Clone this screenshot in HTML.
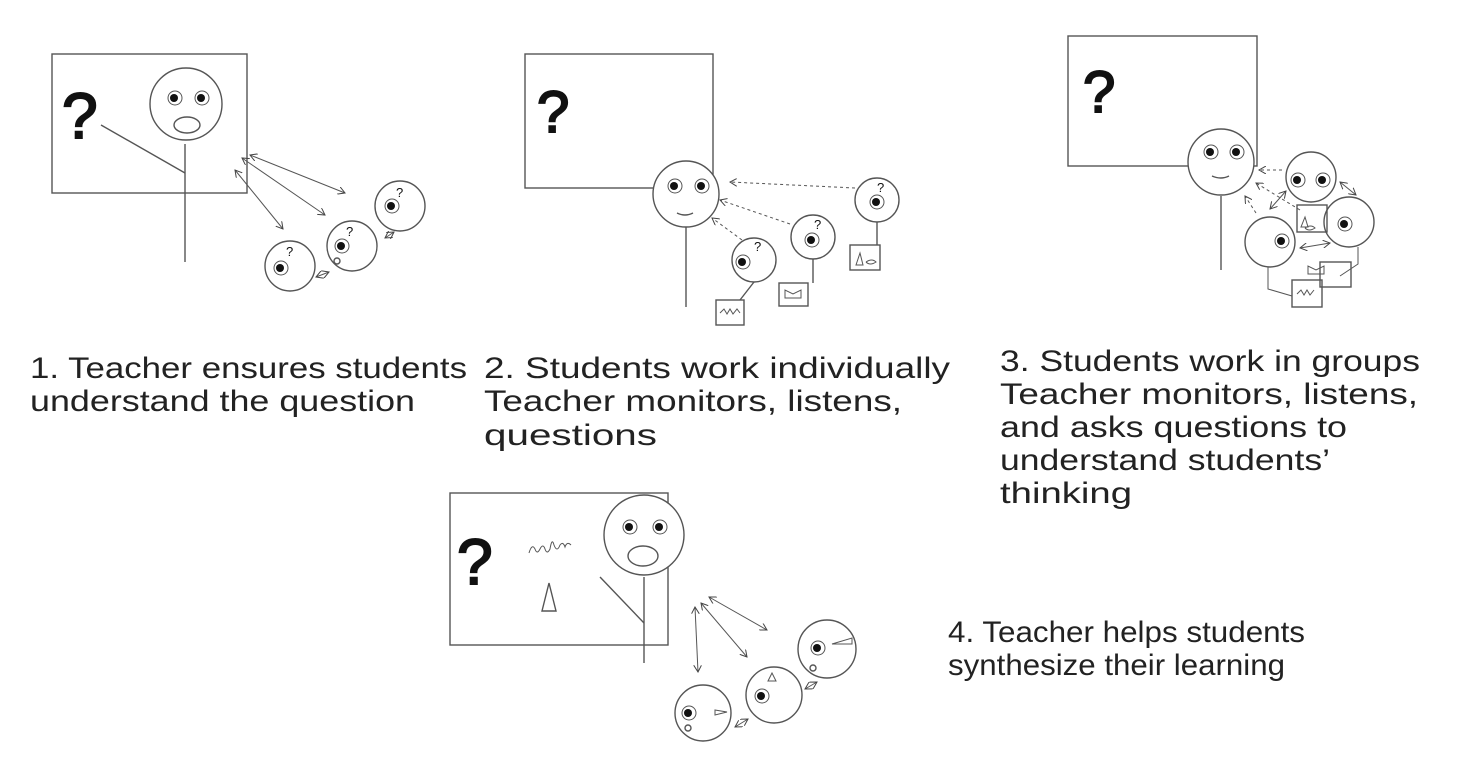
<!DOCTYPE html>
<html><head><style>
html,body{margin:0;padding:0;background:#fff;width:1474px;height:779px;overflow:hidden}
svg{position:absolute;left:0;top:0}
.t{font-family:"Liberation Sans",sans-serif;font-size:30px;fill:#222}
.q{font-family:"Liberation Sans",sans-serif;fill:#111}
.qb{stroke:#111;stroke-width:2}
</style></head><body>
<svg width="1474" height="779" viewBox="0 0 1474 779">
<defs>
<marker id="a" markerWidth="8" markerHeight="8" refX="7" refY="4" orient="auto-start-reverse" markerUnits="userSpaceOnUse"><path d="M0,0 L7,4 L0,8" fill="none" stroke="#444" stroke-width="1"/></marker>
<g id="eye"><circle r="7" fill="#fff" stroke="#555" stroke-width="1"/><circle cx="-1" cy="0" r="4" fill="#111"/></g>
</defs>
<g fill="none" stroke="#555" stroke-width="1.4">
<!-- Panel 1 -->
<rect x="52" y="54" width="195" height="139"/>
<circle cx="186" cy="104" r="36" fill="#fff"/>
<ellipse cx="187" cy="125" rx="13" ry="8"/>
<line x1="185" y1="144" x2="185" y2="262"/>
<line x1="101" y1="125" x2="185" y2="173"/>
<g stroke-width="1" marker-start="url(#a)" marker-end="url(#a)">
<line x1="250" y1="155" x2="345" y2="193"/>
<line x1="242" y1="158" x2="325" y2="215"/>
<line x1="235" y1="170" x2="283" y2="229"/>
<line x1="385" y1="238" x2="394" y2="232"/>
<line x1="316" y1="277" x2="329" y2="272"/>
</g>
<circle cx="400" cy="206" r="25"/><circle cx="352" cy="246" r="25"/><circle cx="290" cy="266" r="25"/>
<ellipse cx="337" cy="261" rx="3" ry="3"/>
<!-- Panel 2 -->
<rect x="525" y="54" width="188" height="134"/>
<circle cx="686" cy="194" r="33" fill="#fff"/>
<line x1="686" y1="227" x2="686" y2="307"/>
<path d="M677,213 q8,4 16,0"/>
<g stroke-dasharray="3,3" stroke-width="1" marker-end="url(#a)">
<line x1="855" y1="188" x2="730" y2="182"/>
<line x1="790" y1="224" x2="720" y2="200"/>
<line x1="742" y1="240" x2="712" y2="218"/>
</g>
<circle cx="877" cy="200" r="22"/><circle cx="813" cy="237" r="22"/><circle cx="754" cy="260" r="22"/>
<line x1="877" y1="222" x2="877" y2="245"/><line x1="813" y1="259" x2="813" y2="283"/><line x1="754" y1="282" x2="740" y2="300"/>
<rect x="850" y="245" width="30" height="25"/><rect x="779" y="283" width="29" height="23"/><rect x="716" y="300" width="28" height="25"/>
<path d="M856,265 l4,-12 l3,12z M866,262 q6,-4 10,0 q-6,4 -10,0" stroke-width="1"/>
<path d="M785,290 v8 h16 v-8 l-8,4z" stroke-width="1"/>
<path d="M720,313 l4,-4 l3,5 l3,-5 l3,5 l4,-5 l3,4" stroke-width="1"/>
<!-- Panel 3 -->
<rect x="1068" y="36" width="189" height="130"/>
<circle cx="1221" cy="162" r="33" fill="#fff"/>
<line x1="1221" y1="196" x2="1221" y2="270"/>
<path d="M1212,176 q9,4 17,0"/>
<circle cx="1311" cy="177" r="25"/><circle cx="1349" cy="222" r="25"/><circle cx="1270" cy="242" r="25"/>
<rect x="1297" y="205" width="30" height="27"/><rect x="1320" y="262" width="31" height="25"/><rect x="1292" y="280" width="30" height="27"/>
<path d="M1308,266 v8 h16 v-8 l-8,4z M1297,294 l4,-4 l3,5 l3,-5 l3,5 l4,-5 M1305,217 l-4,10 h7z M1305,228 q6,-4 10,0 q-6,4 -10,0" stroke-width="1"/>
<path d="M1268,267 v22 l24,7 M1358,247 v17 l-18,12" stroke-width="1"/>
<g stroke-dasharray="3,3" stroke-width="1" marker-end="url(#a)">
<line x1="1282" y1="170" x2="1259" y2="170"/>
<line x1="1300" y1="210" x2="1256" y2="183"/>
<line x1="1256" y1="213" x2="1245" y2="196"/>
</g>
<g stroke-width="1" marker-start="url(#a)" marker-end="url(#a)">
<line x1="1286" y1="191" x2="1270" y2="209"/>
<line x1="1340" y1="182" x2="1356" y2="195"/>
<line x1="1300" y1="248" x2="1330" y2="243"/>
</g>
<!-- Panel 4 -->
<rect x="450" y="493" width="218" height="152"/>
<circle cx="644" cy="535" r="40" fill="#fff"/>
<ellipse cx="643" cy="556" rx="15" ry="10"/>
<line x1="644" y1="577" x2="644" y2="663"/>
<line x1="600" y1="577" x2="644" y2="623"/>
<path d="M542,611 l7,-28 l7,28z"/>
<path d="M529,553 q3,-10 6,-4 q2,6 5,0 q3,-6 5,0 q2,6 5,0 q2,-12 4,-4 q3,8 6,0 q3,-4 5,2 q2,-6 6,-2" stroke-width="1"/>
<g stroke-width="1" marker-start="url(#a)" marker-end="url(#a)">
<line x1="695" y1="607" x2="698" y2="672"/>
<line x1="709" y1="597" x2="767" y2="630"/>
<line x1="701" y1="603" x2="747" y2="657"/>
<line x1="805" y1="689" x2="817" y2="682"/>
<line x1="735" y1="727" x2="748" y2="719"/>
</g>
<circle cx="827" cy="649" r="29"/><circle cx="774" cy="695" r="28"/><circle cx="703" cy="713" r="28"/>
<circle cx="813" cy="668" r="3"/><circle cx="688" cy="728" r="3"/>
<path d="M832,644 l20,-6 v6z M768,681 l4,-8 l4,8z M715,710 l12,2 l-12,3z" stroke-width="1"/>
</g>
<!-- eyes -->
<g>
<use href="#eye" x="175" y="98"/><use href="#eye" x="202" y="98"/>
<use href="#eye" x="675" y="186"/><use href="#eye" x="702" y="186"/>
<use href="#eye" x="1211" y="152"/><use href="#eye" x="1237" y="152"/>
<use href="#eye" x="1298" y="180"/><use href="#eye" x="1323" y="180"/>
<use href="#eye" x="1345" y="224"/><use href="#eye" x="1282" y="241"/>
<use href="#eye" x="630" y="527"/><use href="#eye" x="660" y="527"/>
<use href="#eye" x="818" y="648"/><use href="#eye" x="762" y="696"/><use href="#eye" x="689" y="713"/>
<use href="#eye" x="392" y="206"/><use href="#eye" x="342" y="246"/><use href="#eye" x="281" y="268"/>
<use href="#eye" x="877" y="202"/><use href="#eye" x="812" y="240"/><use href="#eye" x="743" y="262"/>
</g>
<!-- question marks -->
<text class="q qb" x="62" y="138" font-size="64">?</text>
<text class="q qb" x="537" y="132" font-size="58">?</text>
<text class="q qb" x="1083" y="112" font-size="58">?</text>
<text class="q qb" x="457" y="584" font-size="64">?</text>
<g class="q" font-size="13" fill="#336"><text x="396" y="197">?</text><text x="346" y="236">?</text><text x="286" y="256">?</text><text x="877" y="192">?</text><text x="814" y="229">?</text><text x="754" y="251">?</text></g>
<!-- labels -->
<text class="t" x="30" y="378" textLength="437" lengthAdjust="spacingAndGlyphs">1. Teacher ensures students</text>
<text class="t" x="30" y="411" textLength="385" lengthAdjust="spacingAndGlyphs">understand the question</text>
<text class="t" x="484" y="378" textLength="466" lengthAdjust="spacingAndGlyphs">2. Students work individually</text>
<text class="t" x="484" y="411" textLength="418" lengthAdjust="spacingAndGlyphs">Teacher monitors, listens,</text>
<text class="t" x="484" y="445" textLength="173" lengthAdjust="spacingAndGlyphs">questions</text>
<text class="t" x="1000" y="371" textLength="420" lengthAdjust="spacingAndGlyphs">3. Students work in groups</text>
<text class="t" x="1000" y="404" textLength="418" lengthAdjust="spacingAndGlyphs">Teacher monitors, listens,</text>
<text class="t" x="1000" y="437" textLength="347" lengthAdjust="spacingAndGlyphs">and asks questions to</text>
<text class="t" x="1000" y="470" textLength="330" lengthAdjust="spacingAndGlyphs">understand students’</text>
<text class="t" x="1000" y="503" textLength="132" lengthAdjust="spacingAndGlyphs">thinking</text>
<text class="t" x="948" y="642" textLength="357" lengthAdjust="spacingAndGlyphs">4. Teacher helps students</text>
<text class="t" x="948" y="675" textLength="337" lengthAdjust="spacingAndGlyphs">synthesize their learning</text>
</svg>
</body></html>
